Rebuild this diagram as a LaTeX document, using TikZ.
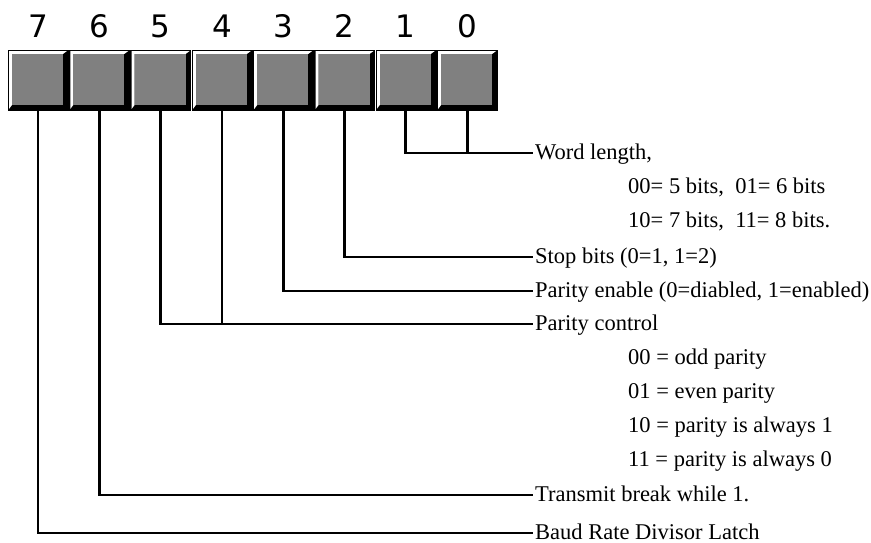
\documentclass[tikz,border=0pt]{standalone}
\usepackage{fontspec}
\setmainfont{Liberation Serif}
\newfontfamily\digitfont{DejaVu Sans}
\definecolor{boxgray}{HTML}{808080}
\begin{document}
\begin{tikzpicture}[x=1pt,y=-1pt,
  bitbox/.style={minimum width=60pt, minimum height=60pt, inner sep=0pt, outer sep=0pt,
    fill=black, draw=black, line width=0.6pt,
    path picture={
      \fill[white] ([shift={(1pt,-1pt)}]path picture bounding box.north west)
        -- ([shift={(-1pt,-1pt)}]path picture bounding box.north east)
        -- ([shift={(-5pt,-4pt)}]path picture bounding box.north east)
        -- ([shift={(4pt,-4pt)}]path picture bounding box.north west)
        -- ([shift={(4pt,5pt)}]path picture bounding box.south west)
        -- ([shift={(1pt,1pt)}]path picture bounding box.south west) -- cycle;
      \fill[boxgray] ([shift={(4pt,-4pt)}]path picture bounding box.north west)
        rectangle ([shift={(-5pt,5pt)}]path picture bounding box.south east);
    }},
  bitnum/.style={font=\digitfont\fontsize{31}{31}\selectfont, anchor=base, inner sep=0pt},
  desc/.style={font=\fontsize{22.5}{27}\selectfont, anchor=west, text height=13pt,
    text depth=0pt, inner xsep=2pt, inner ysep=0pt},
  conn/.style={line width=2.8pt}
]
\useasboundingbox (0,0) rectangle (871,543);
\foreach \b in {7,...,0} {
  \pgfmathsetmacro\cx{38+61.3*(7-\b)}
  \node[bitbox] (b\b) at (\cx,80) {};
  \node[bitnum] (n\b) at (\cx,38) {\b};
}
\node[desc] (wl)  at (533,153) {Word length,};
\node[desc] (wl1) at (626,187) {00= 5 bits,\ \ 01= 6 bits};
\node[desc] (wl2) at (626,221) {10= 7 bits,\ \ 11= 8 bits.};
\node[desc] (sb)  at (533,257) {Stop bits (0=1, 1=2)};
\node[desc] (pe)  at (533,291) {Parity enable (0=diabled, 1=enabled)};
\node[desc] (pc)  at (533,324) {Parity control};
\node[desc] (p0)  at (626,358) {00 = odd parity};
\node[desc] (p1)  at (626,392) {01 = even parity};
\node[desc] (p2)  at (626,426) {10 = parity is always 1};
\node[desc] (p3)  at (626,460) {11 = parity is always 0};
\node[desc] (tb)  at (533,495) {Transmit break while 1.};
\node[desc] (br)  at (533,533) {Baud Rate Divisor Latch};

\draw[conn] (b1.south) |- (wl.west);
\draw[conn] (b0.south) -- (b0.south |- wl.west);
\draw[conn] (b2.south) |- (sb.west);
\draw[conn] (b3.south) |- (pe.west);
\draw[conn] (b5.south) |- (pc.west);
\draw[conn] (b4.south) -- (b4.south |- pc.west);
\draw[conn] (b6.south) |- (tb.west);
\draw[conn] (b7.south) |- (br.west);
\end{tikzpicture}
\end{document}
